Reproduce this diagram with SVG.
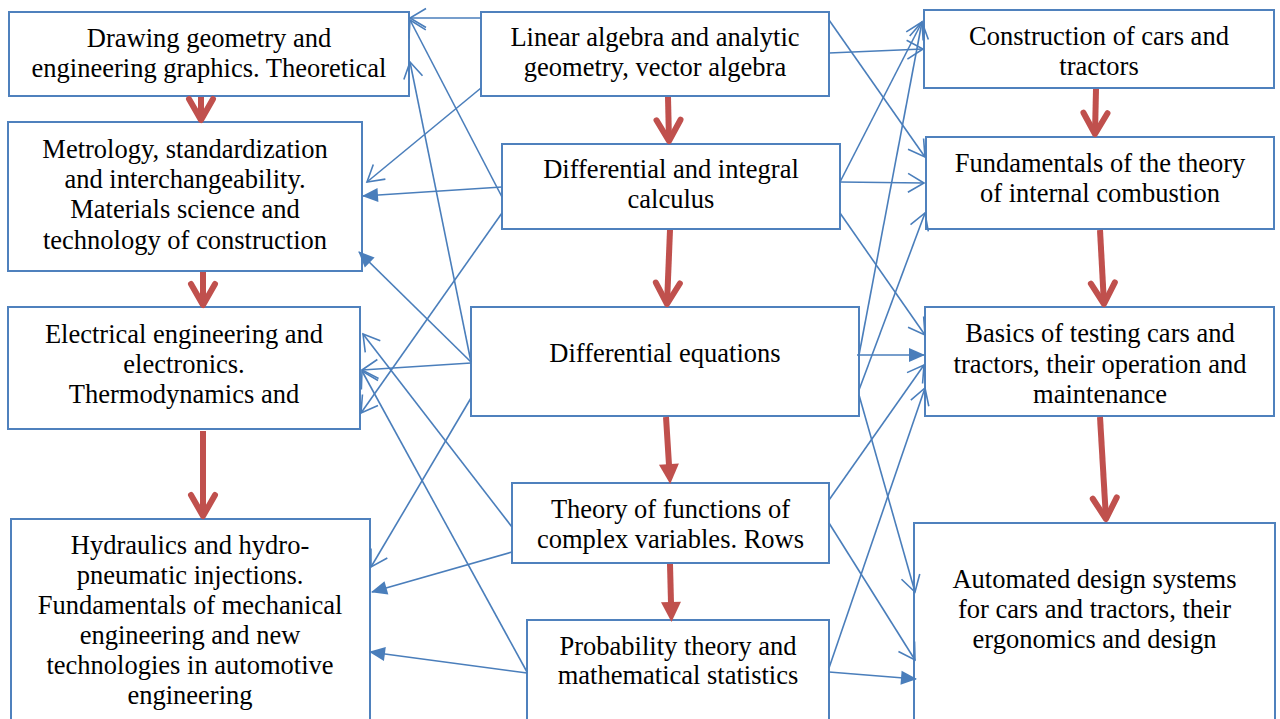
<svg xmlns="http://www.w3.org/2000/svg" width="1280" height="719" viewBox="0 0 1280 719">
<defs>
<style>
.box{fill:#fff;stroke:#4F81BD;stroke-width:2}
.t{font-family:"Liberation Serif","Times New Roman",serif;font-size:26.5px;fill:#000;text-anchor:middle}
.c{stroke:#4A7EBB;stroke-width:1.6;fill:none}
.r{stroke:#C0504D;stroke-width:6;fill:none}
</style>
<marker id="open" markerUnits="userSpaceOnUse" markerWidth="40" markerHeight="40" viewBox="-20 -20 40 40" refX="0" refY="0" orient="auto" overflow="visible">
<path d="M-16,-9.5 L0,0 L-16,9.5" fill="none" stroke="#4A7EBB" stroke-width="1.6"/>
</marker>
<marker id="solid" markerUnits="userSpaceOnUse" markerWidth="40" markerHeight="40" viewBox="-20 -20 40 40" refX="0" refY="0" orient="auto" overflow="visible">
<path d="M1,0 L-15,-7 L-15,7 Z" fill="#4A7EBB"/>
</marker>
<marker id="rchev" markerUnits="userSpaceOnUse" markerWidth="60" markerHeight="60" viewBox="-30 -30 60 60" refX="0" refY="0" orient="auto" overflow="visible">
<path d="M-21,-12 L0,0 L-21,12" fill="none" stroke="#C0504D" stroke-width="6" stroke-linecap="round" stroke-linejoin="round"/>
</marker>
<marker id="rtri" markerUnits="userSpaceOnUse" markerWidth="60" markerHeight="60" viewBox="-30 -30 60 60" refX="0" refY="0" orient="auto" overflow="visible">
<path d="M-1,-10 L19,0 L-1,10 Z" fill="#C0504D"/>
</marker>
</defs>
<rect width="1280" height="719" fill="#fff"/>

<g id="L1"><rect class="box" x="9" y="12" width="400" height="84"/>
<text class="t" x="209" y="47">Drawing geometry and</text>
<text class="t" x="209" y="77">engineering graphics. Theoretical</text></g>
<g id="L2"><rect class="box" x="8" y="122" width="354" height="149"/>
<text class="t" x="185" y="158">Metrology, standardization</text>
<text class="t" x="185" y="188">and interchangeability.</text>
<text class="t" x="185" y="218">Materials science and</text>
<text class="t" x="185" y="249">technology of construction</text></g>
<g id="L3"><rect class="box" x="8" y="307" width="352" height="122"/>
<text class="t" x="184" y="343">Electrical engineering and</text>
<text class="t" x="184" y="373">electronics.</text>
<text class="t" x="184" y="403">Thermodynamics and</text></g>
<g id="L4"><rect class="box" x="11" y="519" width="359" height="215"/>
<text class="t" x="190" y="554">Hydraulics and hydro-</text>
<text class="t" x="190" y="584">pneumatic injections.</text>
<text class="t" x="190" y="614">Fundamentals of mechanical</text>
<text class="t" x="190" y="644">engineering and new</text>
<text class="t" x="190" y="674">technologies in automotive</text>
<text class="t" x="190" y="704">engineering</text></g>

<g id="M1"><rect class="box" x="481" y="12" width="348" height="84"/>
<text class="t" x="655" y="46">Linear algebra and analytic</text>
<text class="t" x="655" y="76">geometry, vector algebra</text></g>
<g id="M2"><rect class="box" x="502" y="144" width="338" height="85"/>
<text class="t" x="671" y="178">Differential and integral</text>
<text class="t" x="671" y="208">calculus</text></g>
<g id="M3"><rect class="box" x="471" y="307" width="388" height="109"/>
<text class="t" x="665" y="362">Differential equations</text></g>
<g id="M4"><rect class="box" x="512" y="483" width="317" height="80"/>
<text class="t" x="670.5" y="518">Theory of functions of</text>
<text class="t" x="670.5" y="548">complex variables. Rows</text></g>
<g id="M5"><rect class="box" x="527" y="620" width="302" height="115"/>
<text class="t" x="678" y="655">Probability theory and</text>
<text class="t" x="678" y="684">mathematical statistics</text></g>

<g id="R1"><rect class="box" x="924" y="10" width="350" height="78"/>
<text class="t" x="1099" y="45">Construction of cars and</text>
<text class="t" x="1099" y="75">tractors</text></g>
<g id="R2"><rect class="box" x="926" y="137" width="348" height="92"/>
<text class="t" x="1100" y="172">Fundamentals of the theory</text>
<text class="t" x="1100" y="202">of internal combustion</text></g>
<g id="R3"><rect class="box" x="925" y="307" width="349" height="109"/>
<text class="t" x="1100" y="342">Basics of testing cars and</text>
<text class="t" x="1100" y="373">tractors, their operation and</text>
<text class="t" x="1100" y="403">maintenance</text></g>
<g id="R4"><rect class="box" x="914" y="523" width="361" height="215"/>
<text class="t" x="1094.5" y="588">Automated design systems</text>
<text class="t" x="1094.5" y="618">for cars and tractors, their</text>
<text class="t" x="1094.5" y="648">ergonomics and design</text></g>

<g id="connectors">
<line class="c" x1="481" y1="18" x2="410" y2="18" marker-end="url(#open)"/>
<line class="c" x1="502" y1="197" x2="410" y2="20" marker-end="url(#open)"/>
<line class="c" x1="471" y1="362" x2="410" y2="62" marker-end="url(#open)"/>
<line class="c" x1="481" y1="88" x2="367" y2="182" marker-end="url(#open)"/>
<line class="c" x1="502" y1="187" x2="363" y2="196" marker-end="url(#solid)"/>
<line class="c" x1="471" y1="362" x2="359" y2="252" marker-end="url(#solid)"/>
<line class="c" x1="502" y1="213" x2="361" y2="413" marker-end="url(#open)"/>
<line class="c" x1="512" y1="527" x2="363" y2="334" marker-end="url(#open)"/>
<line class="c" x1="471" y1="363" x2="362" y2="370" marker-end="url(#open)"/>
<line class="c" x1="527" y1="672" x2="362" y2="371" marker-end="url(#open)"/>
<line class="c" x1="471" y1="398" x2="371" y2="567" marker-end="url(#open)"/>
<line class="c" x1="512" y1="552" x2="372" y2="592" marker-end="url(#solid)"/>
<line class="c" x1="527" y1="673" x2="370" y2="652" marker-end="url(#solid)"/>

<line class="c" x1="829" y1="53" x2="923" y2="49" marker-end="url(#open)"/>
<line class="c" x1="829" y1="20" x2="925" y2="157" marker-end="url(#open)"/>
<line class="c" x1="840" y1="182" x2="922" y2="22" marker-end="url(#open)"/>
<line class="c" x1="859" y1="355" x2="922" y2="22" marker-end="url(#open)"/>
<line class="c" x1="840" y1="182" x2="924" y2="183" marker-end="url(#open)"/>
<line class="c" x1="859" y1="390" x2="925" y2="213" marker-end="url(#open)"/>
<line class="c" x1="840" y1="213" x2="925" y2="335" marker-end="url(#open)"/>
<line class="c" x1="857" y1="355" x2="924" y2="355" marker-end="url(#solid)"/>
<line class="c" x1="829" y1="500" x2="924" y2="365" marker-end="url(#open)"/>
<line class="c" x1="829" y1="668" x2="925" y2="388" marker-end="url(#open)"/>
<line class="c" x1="859" y1="395" x2="915" y2="592" marker-end="url(#open)"/>
<line class="c" x1="829" y1="523" x2="915" y2="660" marker-end="url(#open)"/>
<line class="c" x1="829" y1="672" x2="916" y2="679" marker-end="url(#solid)"/>

<line class="r" x1="201" y1="97" x2="201" y2="120" marker-end="url(#rchev)"/>
<line class="r" x1="203" y1="272" x2="203" y2="305" marker-end="url(#rchev)"/>
<line class="r" x1="203" y1="431" x2="203" y2="516" marker-end="url(#rchev)"/>
<line class="r" x1="668" y1="97" x2="669" y2="141" marker-end="url(#rchev)"/>
<line class="r" x1="670" y1="230" x2="667" y2="304" marker-end="url(#rchev)"/>
<line class="r" x1="666" y1="417" x2="669" y2="465" marker-end="url(#rtri)"/>
<line class="r" x1="670" y1="564" x2="671" y2="603" marker-end="url(#rtri)"/>
<line class="r" x1="1096" y1="89" x2="1095" y2="134" marker-end="url(#rchev)"/>
<line class="r" x1="1100" y1="230" x2="1104" y2="304" marker-end="url(#rchev)"/>
<line class="r" x1="1100" y1="417" x2="1106" y2="519" marker-end="url(#rchev)"/>
</g>
</svg>
